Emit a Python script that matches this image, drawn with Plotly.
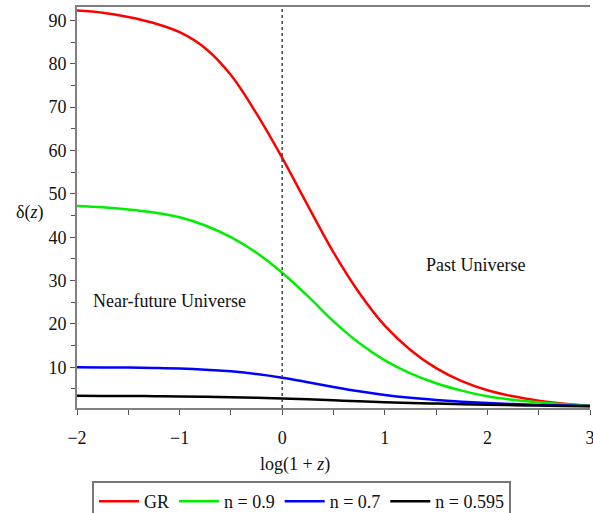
import plotly.graph_objects as go

x_vals = [-2.0, -1.75, -1.5, -1.25, -1.0, -0.75, -0.5, -0.25, 0.0, 0.25, 0.5, 0.75, 1.0,
          1.25, 1.5, 1.75, 2.0, 2.25, 2.5, 2.75, 3.0]
gr_vals = [92.3, 91.8, 90.8, 89.4, 87.3, 83.6, 77.4, 68.5, 58.3, 47.3, 36.5, 27.2, 19.6,
           14.0, 9.8, 6.8, 4.7, 3.3, 2.3, 1.6, 1.1]
n09_vals = [47.2, 46.9, 46.4, 45.7, 44.6, 42.7, 40.0, 36.4, 31.8, 26.4, 20.6, 15.6, 11.6,
            8.6, 6.3, 4.6, 3.3, 2.5, 1.9, 1.45, 1.1]
n07_vals = [10.0, 9.97, 9.92, 9.83, 9.7, 9.45, 9.05, 8.45, 7.6, 6.55, 5.45, 4.45, 3.6,
            2.95, 2.45, 2.05, 1.75, 1.5, 1.3, 1.15, 1.05]
n0595_vals = [3.4, 3.39, 3.37, 3.33, 3.28, 3.2, 3.1, 2.97, 2.8, 2.6, 2.38, 2.15, 1.95,
              1.77, 1.62, 1.48, 1.36, 1.26, 1.17, 1.08, 1.0]

series_names = ["GR", "n = 0.9", "n = 0.7", "n = 0.595"]
series_colors = ["#ff0000", "#00ee00", "#0000ff", "#000000"]
series_data = [gr_vals, n09_vals, n07_vals, n0595_vals]

x_ticks = [-2, -1, 0, 1, 2, 3]
x_tick_labels = ["\u22122", "\u22121", "0", "1", "2", "3"]
y_ticks = [10, 20, 30, 40, 50, 60, 70, 80, 90]

font_family = "Liberation Serif"
text_color = "#111111"

fig = go.Figure()
for name, color, vals in zip(series_names, series_colors, series_data):
    fig.add_trace(go.Scatter(x=x_vals, y=vals, mode="lines", name=name,
                             line=dict(color=color, width=2.5, shape="spline", smoothing=1.0)))

fig.add_shape(type="line", xref="x", yref="paper", x0=0, x1=0, y0=0, y1=1,
              line=dict(color="#444444", width=1.5, dash="dot"))

fig.add_annotation(x=-1.094, y=25.3, xref="x", yref="y", text="Near-future Universe",
                   showarrow=False, font=dict(family=font_family, size=18, color=text_color))
fig.add_annotation(x=1.88, y=33.6, xref="x", yref="y", text="Past Universe",
                   showarrow=False, font=dict(family=font_family, size=18, color=text_color))
fig.add_annotation(x=0.125, y=-0.142, xref="x", yref="paper", text="log(1 + <i>z</i>)",
                   showarrow=False, yanchor="middle",
                   font=dict(family=font_family, size=18, color=text_color))
fig.add_annotation(x=-47 / 513, y=(408 - 212) / 401, xref="x domain", yref="y domain",
                   text="\u03b4(<i>z</i>)", showarrow=False, xanchor="center", yanchor="middle",
                   font=dict(family=font_family, size=18, color=text_color))

fig.update_layout(
    width=593, height=513,
    margin=dict(l=77, r=3, t=7, b=105, autoexpand=False),
    paper_bgcolor="white", plot_bgcolor="white",
    font=dict(family=font_family, size=18, color=text_color),
    showlegend=True,
    legend=dict(orientation="h", xref="container", yref="container",
                x=92 / 593, y=(513 - 481) / 513, xanchor="left", yanchor="top",
                bordercolor="#777777", borderwidth=2, font=dict(family=font_family, size=18),
                itemwidth=40, tracegroupgap=0),
    xaxis=dict(range=[-2, 3], tickvals=x_ticks, ticktext=x_tick_labels,
               showgrid=False, zeroline=False, showline=True, linecolor="#808080", linewidth=2,
               mirror=True, ticks="outside", ticklen=5, tickcolor="#555555", tickwidth=1,
               ticklabelstandoff=7, ticklabeloverflow="allow",
               minor=dict(dtick=0.5, ticks="outside", ticklen=5, tickcolor="#555555", showgrid=False),
               tickfont=dict(family=font_family, size=18)),
    yaxis=dict(range=[0.6, 93.1], tickvals=y_ticks,
               showgrid=False, zeroline=False, showline=True, linecolor="#808080", linewidth=2,
               ticks="outside", ticklen=5, tickcolor="#555555", tickwidth=1,
               minor=dict(dtick=5, tick0=0, ticks="outside", ticklen=4, tickcolor="#555555", showgrid=False),
               tickfont=dict(family=font_family, size=18)),
)

fig.write_html("out.html")
